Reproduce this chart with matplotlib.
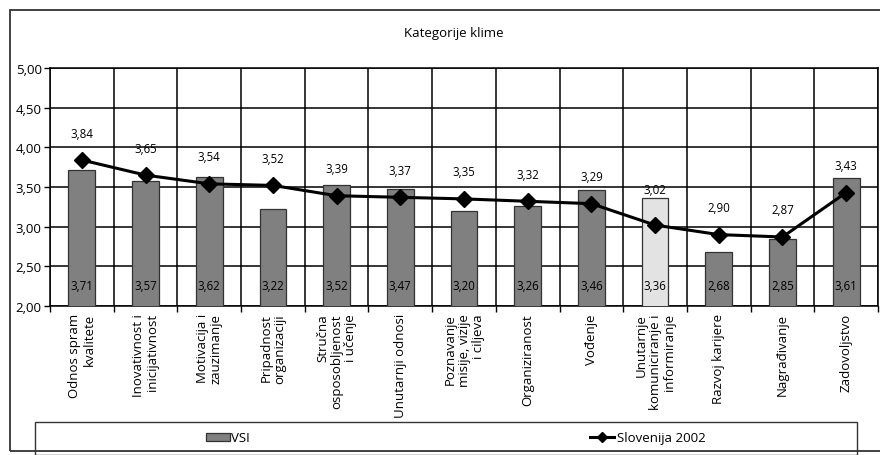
import matplotlib
matplotlib.use("Agg")
import matplotlib.pyplot as plt
from matplotlib.patches import Rectangle
from matplotlib.ticker import FuncFormatter, MultipleLocator
import numpy as np

plt.rcParams['font.family'] = ['Open Sans', 'DejaVu Sans']

categories = [
    "Odnos spram\nkvalitete",
    "Inovativnost i\ninicijativnost",
    "Motivacija i\nzauzimanje",
    "Pripadnost\norganizaciji",
    "Stručna\nosposobljenost\ni učenje",
    "Unutarnji odnosi",
    "Poznavanje\nmisije, vizije\ni ciljeva",
    "Organiziranost",
    "Vođenje",
    "Unutarnje\nkomuniciranje i\ninformiranje",
    "Razvoj karijere",
    "Nagrađivanje",
    "Zadovoljstvo",
]
vsi = [3.71, 3.57, 3.62, 3.22, 3.52, 3.47, 3.20, 3.26, 3.46, 3.36, 2.68, 2.85, 3.61]
slovenija = [3.84, 3.65, 3.54, 3.52, 3.39, 3.37, 3.35, 3.32, 3.29, 3.02, 2.90, 2.87, 3.43]
highlight_index = 9
title = "Kategorije klime"
series_names = ["VSI", "Slovenija 2002"]

fig = plt.figure(figsize=(8.8, 4.56), dpi=100)
W, H = 880, 456
ax = fig.add_axes([50 / W, 1 - 307 / H, (878 - 50) / W, (307 - 69) / H])

n = len(categories)
x = np.arange(n)
colors = ["#808080"] * n
colors[highlight_index] = "#e3e3e3"

bars = ax.bar(x, vsi, width=0.42, bottom=0, color=colors, edgecolor="#333333",
              linewidth=0.9, zorder=3)
line, = ax.plot(x, slovenija, color="black", linewidth=2.2, marker="D",
                markersize=8, zorder=4)

ax.set_ylim(2.0, 5.0)
ax.set_xlim(-0.5, n - 0.5)
ax.yaxis.set_major_locator(MultipleLocator(0.5))
ax.yaxis.set_major_formatter(FuncFormatter(lambda v, p: f"{v:.2f}".replace(".", ",")))
ax.tick_params(axis="y", labelsize=9.5, length=4, width=1.0, direction="out", pad=2)

# vertical grid at category boundaries
ax.set_xticks(x)
ax.set_xticklabels([])
ax.tick_params(axis="x", which="major", length=0)
ax.set_xticks(np.arange(n + 1) - 0.5, minor=True)
ax.tick_params(axis="x", which="minor", length=4, width=1.0, direction="out")
ax.grid(True, which="minor", axis="x", color="black", linewidth=1.1, zorder=1)
ax.grid(True, which="major", axis="y", color="black", linewidth=1.1, zorder=1)
for s in ax.spines.values():
    s.set_linewidth(1.1)
ax.set_axisbelow(True)

# category labels
for xi, lab in zip(x, categories):
    ax.text(xi, -0.03, lab, transform=ax.get_xaxis_transform(), rotation=90,
            ha="center", va="top", multialignment="right", fontsize=9.5,
            linespacing=1.12)

# bar value labels
for xi, v in zip(x, vsi):
    ax.text(xi, 2.26, f"{v:.2f}".replace(".", ","), ha="center", va="center",
            fontsize=8.3, zorder=5)

# line value labels
extra = {highlight_index: 9}
for i, (xi, v) in enumerate(zip(x, slovenija)):
    ax.annotate(f"{v:.2f}".replace(".", ","), (xi, v), xytext=(0, 27 + extra.get(i, 0)),
                textcoords="offset pixels", ha="center", va="center", fontsize=8.3, zorder=5)

fig.text(454 / W, 1 - 34 / H, title, ha="center", va="center", fontsize=9.5)

# outer frame
fig.add_artist(Rectangle((10 / W, 4 / H), 1.0, 1 - 15 / H, transform=fig.transFigure,
                         fill=False, edgecolor="#333333", linewidth=1.3))
# legend frame
fig.add_artist(Rectangle((35 / W, 0.5 / H), (857 - 35) / W, (456 - 423) / H,
                         transform=fig.transFigure, fill=False, edgecolor="#333333",
                         linewidth=1.0))
leg1 = fig.legend([bars], [series_names[0]], loc="center", bbox_to_anchor=(228 / W, 1 - 439 / H),
                  frameon=False, fontsize=9.5, handlelength=1.8, handleheight=0.5,
                  handletextpad=0.1, borderpad=0)
leg2 = fig.legend([line], [series_names[1]], loc="center", bbox_to_anchor=(648 / W, 1 - 439 / H),
                  frameon=False, fontsize=9.5, handlelength=1.8, handletextpad=0.2, borderpad=0)
leg2.get_lines()[0].set_markersize(5)

fig.savefig("out.png", dpi=100)
